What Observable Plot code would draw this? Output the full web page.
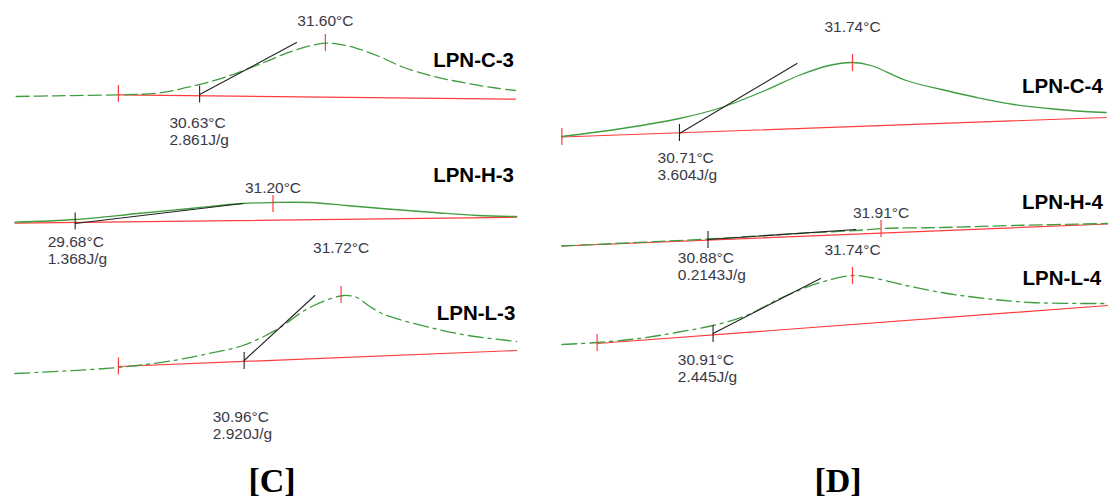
<!DOCTYPE html>
<html><head><meta charset="utf-8">
<script src="https://cdn.jsdelivr.net/npm/d3@7"></script>
<script src="https://cdn.jsdelivr.net/npm/@observablehq/plot@0.6"></script>
<style>
body{margin:0;background:#fff;}
#wrap{display:flex;width:1108px;height:501px;overflow:hidden;}
.panel{position:relative;}
.cap{font-family:"Liberation Serif",serif;font-weight:bold;font-size:34px;height:46px;line-height:52px;text-align:center;color:#000;}
</style></head><body>
<div id="wrap"><div class="panel" id="pc"></div><div class="panel" id="pd"></div></div>
<script>
// ---------- Panel [C] data (temperature °C, heat flow a.u.) ----------
const c3T = [29.24,29.54,30.02,30.33,30.59,30.84,31.13,31.36,31.60,31.76,31.89,32.03,32.18,32.43,32.69,32.90,33.05];
const c3Y = [35.90,35.97,36.07,36.25,36.95,37.85,39.3,40.5,41.23,41.0,40.5,39.8,38.9,37.9,37.2,36.75,36.5];
const h3T = [29.23,29.69,30.17,30.57,30.97,31.20,31.49,31.76,32.03,32.43,32.76,33.06];
const h3Y = [23.33,23.6,24.2,24.7,25.2,25.3,25.3,25.0,24.7,24.3,24.0,23.9];
const l3T = [29.23,30.02,30.44,30.71,30.97,31.23,31.44,31.60,31.74,31.84,31.94,32.05,32.43,32.69,33.06];
const l3Y = [8.2,8.8,9.5,10.2,11.0,12.6,14.5,15.5,16.0,15.8,14.9,14.1,12.7,12.0,11.4];
const baseC_T = [[30.02,33.05],[29.23,33.06],[30.02,33.06]];
const baseC_Y = [[36.07,35.63],[23.23,23.83],[8.9,10.5]];
const tanC_T = [[30.64,31.38],[29.69,30.97],[30.98,31.52]];
const tanC_Y = [[36.1,41.3],[23.2,25.2],[9.5,16.0]];
const redTickC_T = [30.02,31.60,31.20,30.02,31.72];
const redTickC_Y = [36.15,41.25,25.15,8.9,16.05];
const blackTickC_T = [30.64,29.69,30.98];
const blackTickC_Y = [36.1,23.4,9.45];
const peakLabC = ["31.60°C","31.20°C","31.72°C"];
const peakLabC_T = [31.60,31.20,31.72];
const peakLabC_Y = [43.4,26.7,20.7];
const onsetLabC = ["30.63°C","29.68°C","30.96°C"];
const enthLabC = ["2.861J/g","1.368J/g","2.920J/g"];
const onsetLabC_T = [30.41,29.48,30.74];
const onsetLabC_Y = [33.2,21.3,3.8];
const namesC = ["LPN-C-3","LPN-H-3","LPN-L-3"];
const namesC_T = [33.04,33.04,33.05];
const namesC_Y = [39.55,28.0,14.2];

// ---------- Panel [D] data ----------
const c4T = [30.01,30.37,30.71,30.96,31.22,31.42,31.60,31.74,31.85,32.06,32.27,32.48,32.70,32.91,33.12,33.25];
const c4Y = [31.9,32.7,33.7,34.8,36.5,38.0,39.0,39.3,39.0,37.5,36.6,35.8,35.1,34.7,34.4,34.3];
const h4T = [30.01,30.88,31.42,31.76,31.91,32.27,32.70,33.26];
const h4Y = [20.95,21.65,22.2,22.5,22.7,22.8,23.0,23.2];
const l4T = [30.01,30.22,30.47,30.69,30.91,31.11,31.32,31.55,31.74,31.85,32.06,32.27,32.48,32.80,33.26];
const l4Y = [11.1,11.3,11.7,12.3,13.0,14.0,15.8,17.3,18.0,17.8,17.0,16.3,15.8,15.3,15.2];
const baseD_T = [[30.01,33.25],[30.01,33.26],[30.22,33.26]];
const baseD_Y = [[31.85,33.8],[20.95,23.15],[11.2,15.0]];
const tanD_T = [[30.71,31.41],[30.88,31.76],[30.91,31.55]];
const tanD_Y = [[32.2,39.2],[21.6,22.6],[12.2,17.7]];
const redTickD_T = [30.01,31.74,31.91,30.22,31.74];
const redTickD_Y = [31.85,39.25,22.65,11.25,17.95];
const blackTickD_T = [30.71,30.88,30.91];
const blackTickD_Y = [32.25,21.55,12.15];
const peakLabD = ["31.74°C","31.91°C","31.74°C"];
const peakLabD_T = [31.74,31.91,31.74];
const peakLabD_Y = [42.8,24.2,20.5];
const onsetLabD = ["30.71°C","30.88°C","30.91°C"];
const enthLabD = ["3.604J/g","0.2143J/g","2.445J/g"];
const onsetLabD_T = [30.58,30.70,30.70];
const onsetLabD_Y = [29.7,19.7,9.5];
const namesD = ["LPN-C-4","LPN-H-4","LPN-L-4"];
const namesD_T = [33.23,33.23,33.22];
const namesD_Y = [36.95,25.3,17.7];

// ---------- styles ----------
const GREEN = "#3f9d3f", RED = "#ff3b3b", BLACK = "#222";
const TXT = "#3a3a46";
const DASH = "13,5", DASHDOT = "15,5,3,5";
const TICK = 0.85; // half tick length (a.u.)

const zip = (T, Y) => T.map((t, i) => ({T: t, Y: Y[i]}));

function panel(o) {
  const marks = [];
  o.baseT.forEach((T, i) => marks.push(Plot.line(zip(T, o.baseY[i]), {x: "T", y: "Y", stroke: RED, strokeWidth: 1.2})));
  o.curves.forEach(c => marks.push(Plot.line(zip(c.T, c.Y), {x: "T", y: "Y", stroke: GREEN, strokeWidth: 1.3, strokeDasharray: c.dash, curve: "catmull-rom"})));
  o.tanT.forEach((T, i) => marks.push(Plot.line(zip(T, o.tanY[i]), {x: "T", y: "Y", stroke: BLACK, strokeWidth: 1.1})));
  marks.push(Plot.ruleX(zip(o.rtT, o.rtY), {x: "T", y1: d => d.Y - TICK, y2: d => d.Y + TICK, stroke: RED, strokeWidth: 1.2}));
  marks.push(Plot.ruleX(zip(o.btT, o.btY), {x: "T", y1: d => d.Y - TICK, y2: d => d.Y + TICK, stroke: BLACK, strokeWidth: 1.1}));
  const txt = {fontFamily: "Liberation Sans, Arial, sans-serif", fontSize: 15.5, fill: TXT};
  marks.push(Plot.text(o.peakLab.map((s, i) => ({s, T: o.peakT[i], Y: o.peakY[i]})), {x: "T", y: "Y", text: "s", textAnchor: "middle", ...txt}));
  marks.push(Plot.text(o.onLab.map((s, i) => ({s, T: o.onT[i], Y: o.onY[i]})), {x: "T", y: "Y", text: "s", textAnchor: "start", ...txt}));
  marks.push(Plot.text(o.enLab.map((s, i) => ({s, T: o.onT[i], Y: o.onY[i] - 1.7})), {x: "T", y: "Y", text: "s", textAnchor: "start", ...txt}));
  marks.push(Plot.text(o.names.map((s, i) => ({s, T: o.nT[i], Y: o.nY[i]})), {x: "T", y: "Y", text: "s", textAnchor: "end", fontFamily: "Liberation Sans, Arial, sans-serif", fontSize: 20.5, fontWeight: "bold", fill: "#000"}));
  return Plot.plot({
    width: o.width, height: 455, margin: 0,
    x: {domain: o.xDomain, axis: null},
    y: {domain: [0, 45.5], axis: null},
    style: {background: "#fff", overflow: "visible"},
    marks
  });
}

const pc = panel({
  width: 548, xDomain: [29.12, 29.12 + 548 / 131],
  curves: [{T: c3T, Y: c3Y, dash: DASH}, {T: h3T, Y: h3Y, dash: null}, {T: l3T, Y: l3Y, dash: DASHDOT}],
  baseT: baseC_T, baseY: baseC_Y, tanT: tanC_T, tanY: tanC_Y,
  rtT: redTickC_T, rtY: redTickC_Y, btT: blackTickC_T, btY: blackTickC_Y,
  peakLab: peakLabC, peakT: peakLabC_T, peakY: peakLabC_Y,
  onLab: onsetLabC, enLab: enthLabC, onT: onsetLabC_T, onY: onsetLabC_Y,
  names: namesC, nT: namesC_T, nY: namesC_Y
});
const pd = panel({
  width: 560, xDomain: [29.9305, 29.9305 + 560 / 168],
  curves: [{T: c4T, Y: c4Y, dash: null}, {T: h4T, Y: h4Y, dash: DASH}, {T: l4T, Y: l4Y, dash: DASHDOT}],
  baseT: baseD_T, baseY: baseD_Y, tanT: tanD_T, tanY: tanD_Y,
  rtT: redTickD_T, rtY: redTickD_Y, btT: blackTickD_T, btY: blackTickD_Y,
  peakLab: peakLabD, peakT: peakLabD_T, peakY: peakLabD_Y,
  onLab: onsetLabD, enLab: enthLabD, onT: onsetLabD_T, onY: onsetLabD_Y,
  names: namesD, nT: namesD_T, nY: namesD_Y
});

const elC = document.getElementById("pc");
elC.appendChild(pc);
const capC = document.createElement("div"); capC.className = "cap"; capC.textContent = "[C]"; capC.style.paddingRight = "4px";
elC.appendChild(capC);
const elD = document.getElementById("pd");
elD.appendChild(pd);
const capD = document.createElement("div"); capD.className = "cap"; capD.textContent = "[D]"; capD.style.paddingLeft = "20px";
elD.appendChild(capD);
</script></body></html>
